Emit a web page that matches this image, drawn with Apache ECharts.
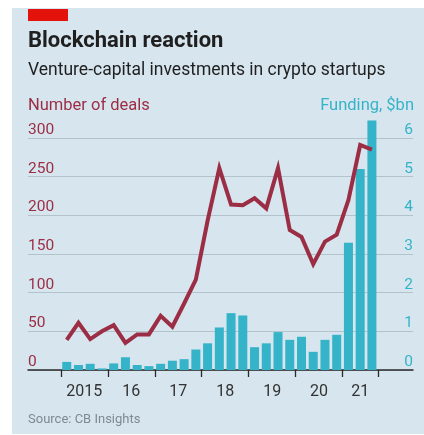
<!DOCTYPE html>
<html><head><meta charset="utf-8">
<script src="https://cdn.jsdelivr.net/npm/echarts@6/dist/echarts.min.js"></script>
<style>
html,body{margin:0;padding:0;background:#fff;}
#panel{position:absolute;left:12px;top:8px;width:412px;height:426px;background:#d7e5ee;}
#chart{position:absolute;left:0;top:0;width:424px;height:435px;}
</style></head><body>
<div id="panel"></div><div id="chart"></div>
<script>
const quarters = ['2015Q1','2015Q2','2015Q3','2015Q4','2016Q1','2016Q2','2016Q3','2016Q4',
  '2017Q1','2017Q2','2017Q3','2017Q4','2018Q1','2018Q2','2018Q3','2018Q4',
  '2019Q1','2019Q2','2019Q3','2019Q4','2020Q1','2020Q2','2020Q3','2020Q4',
  '2021Q1','2021Q2','2021Q3'];
const deals = [39, 61, 40, 50, 58, 35, 46, 46, 70, 56, 86, 117, 193, 261, 214, 213,
  222, 209, 261, 181, 172, 137, 166, 175, 220, 291, 285];
const funding = [0.21, 0.13, 0.16, 0.04, 0.17, 0.33, 0.13, 0.10, 0.16, 0.24, 0.28, 0.53,
  0.69, 1.10, 1.47, 1.41, 0.59, 0.69, 0.98, 0.78, 0.86, 0.47, 0.78, 0.91, 3.29, 5.20, 6.45];
const yearLabels = ['2015','16','17','18','19','20','21'];
const dealsTicks = [0, 50, 100, 150, 200, 250, 300];
const fundingTicks = [0, 1, 2, 3, 4, 5, 6];

const FONT = 'Roboto';
const DEAL_C = '#9b2d45';
const FUND_C = '#35b3c8';
const TEXT_C = '#1f1f1f';

// year boundaries (quarter index where each year starts, plus end)
const bounds = [];
quarters.forEach((q, i) => { if (q.endsWith('Q1')) bounds.push(i); });
bounds.push(quarters.length);
const labelPos = yearLabels.map((_, i) => (bounds[i] + bounds[i + 1]) / 2);

const chart = echarts.init(document.getElementById('chart'), null, {renderer: 'canvas'});
chart.setOption({
  backgroundColor: 'transparent',
  animation: false,
  textStyle: {fontFamily: FONT},
  title: [
    {text: 'Blockchain reaction', left: 28, top: 30, padding: 0,
     textStyle: {fontFamily: FONT, fontSize: 22, fontWeight: 'bold', color: TEXT_C}},
    {text: 'Venture-capital investments in crypto startups', left: 28, top: 62, padding: 0,
     textStyle: {fontFamily: FONT, fontSize: 17.5, fontWeight: 'normal', color: TEXT_C}},
    {text: 'Number of deals', left: 28, top: 97, padding: 0,
     textStyle: {fontFamily: FONT, fontSize: 16.5, fontWeight: 'normal', color: DEAL_C}},
    {text: 'Funding, $bn', right: 10, top: 97, padding: 0,
     textStyle: {fontFamily: FONT, fontSize: 16.5, fontWeight: 'normal', color: FUND_C}},
    {text: 'Source: CB Insights', left: 28, top: 413, padding: 0,
     textStyle: {fontFamily: FONT, fontSize: 13, fontWeight: 'normal', color: '#7d8a92'}}
  ],
  graphic: [
    {type: 'rect', left: 28, top: 9, shape: {width: 40, height: 12}, style: {fill: '#e3120b'}}
  ],
  grid: {left: 28, right: 11, top: 138, bottom: 65, containLabel: false},
  xAxis: {
    type: 'value', min: -2.8, max: 30,
    splitLine: {show: false},
    axisLine: {show: true, onZero: false, lineStyle: {color: '#2a2a2a', width: 1.5}},
    axisTick: {show: true, customValues: bounds, length: 7, lineStyle: {color: '#2a2a2a', width: 1.3}},
    axisLabel: {show: true, customValues: labelPos, margin: 14,
      fontFamily: FONT, fontSize: 16, color: '#333',
      formatter: v => { const k = labelPos.indexOf(v); return k >= 0 ? yearLabels[k] : ''; }}
  },
  yAxis: [
    {type: 'value', min: 0, max: 300, interval: 50, position: 'left',
     axisLine: {show: false}, axisTick: {show: false},
     splitLine: {show: true, lineStyle: {color: '#b3c3cc', width: 1.2}},
     axisLabel: {inside: true, margin: 0, verticalAlign: 'bottom', padding: [0, 0, 0, 0],
       fontFamily: FONT, fontSize: 15.5, color: DEAL_C,
       formatter: v => dealsTicks.includes(v) ? String(v) : ''}},
    {type: 'value', min: 0, max: 6, interval: 1, position: 'right',
     axisLine: {show: false}, axisTick: {show: false}, splitLine: {show: false},
     axisLabel: {inside: true, margin: 0, verticalAlign: 'bottom', padding: [0, 0, 0, 0],
       fontFamily: FONT, fontSize: 15.5, color: FUND_C,
       formatter: v => fundingTicks.includes(v) ? String(v) : ''}}
  ],
  series: [
    {type: 'bar', name: 'Funding', yAxisIndex: 1, clip: false, barWidth: 9,
     itemStyle: {color: FUND_C}, z: 2,
     data: funding.map((v, i) => [i + 0.5, v])},
    {type: 'line', name: 'Deals', yAxisIndex: 0, clip: false, symbol: 'none',
     lineStyle: {color: DEAL_C, width: 4, join: 'miter'}, z: 3,
     data: deals.map((v, i) => [i + 0.5, v])}
  ]
});
</script>
</body></html>
